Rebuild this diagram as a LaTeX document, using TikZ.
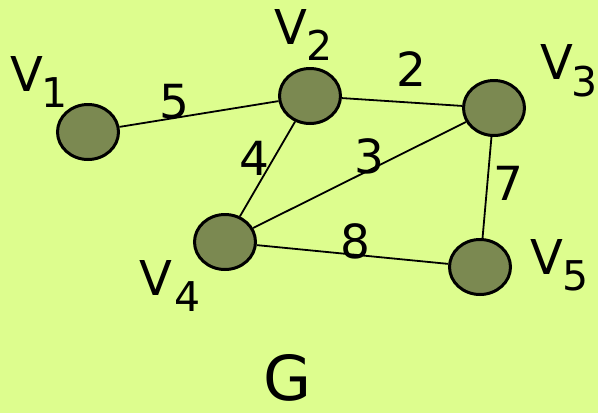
\documentclass[tikz,border=0pt]{standalone}
\usepackage{fontspec}
\setmainfont{DejaVu Sans}
\usetikzlibrary{shapes.geometric}
\definecolor{bg}{RGB}{221,253,142}
\definecolor{olive}{RGB}{123,137,81}
\begin{document}
\begin{tikzpicture}[x=1pt,y=-1pt,
  vert/.style={ellipse,draw=black,line width=3pt,fill=olive,minimum width=61pt,minimum height=55pt,inner sep=0pt},
  edge/.style={draw=black,line width=1.8pt},
  wlab/.style={font=\fontsize{47}{47}\selectfont,inner sep=0pt},
  vlab/.style={font=\fontsize{48}{48}\selectfont,inner sep=0pt},
  slab/.style={font=\fontsize{41}{41}\selectfont,inner sep=0pt}]
\fill[bg] (0,0) rectangle (598,413);
\useasboundingbox (0,0) rectangle (598,413);
\node[vert] (v1) at (88,132) {};
\node[vert] (v2) at (310,96) {};
\node[vert] (v3) at (494,108) {};
\node[vert] (v4) at (225,242) {};
\node[vert] (v5) at (480,267) {};
\draw[edge] (v1) -- (v2);
\draw[edge] (v2) -- (v3);
\draw[edge] (v2) -- (v4);
\draw[edge] (v4) -- (v3);
\draw[edge] (v3) -- (v5);
\draw[edge] (v4) -- (v5);
\node[wlab] (w5) at (174,102) {5};
\node[wlab] (w2) at (411,69) {2};
\node[wlab] (w4) at (254,158) {4};
\node[wlab] (w3) at (369,156) {3};
\node[wlab] (w7) at (508,183) {7};
\node[wlab] (w8) at (355,241) {8};
\node[vlab] (l1) at (27,74) {V};
\node[slab] (s1) at (55,93) {1};
\node[vlab] (l2) at (291,27) {V};
\node[slab] (s2) at (320,45) {2};
\node[vlab] (l3) at (557,62) {V};
\node[slab] (s3) at (585,82) {3};
\node[vlab] (l4) at (156,278) {V};
\node[slab] (s4) at (188,297) {4};
\node[vlab] (l5) at (547,257) {V};
\node[slab] (s5) at (576,276) {5};
\node[font=\fontsize{62}{62}\selectfont,inner sep=0pt] (g) at (288,378) {G};
\end{tikzpicture}
\end{document}
